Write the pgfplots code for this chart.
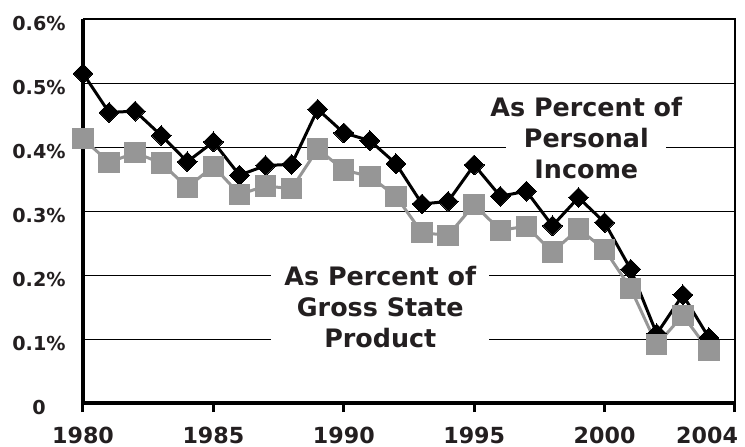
\documentclass[border=0pt]{standalone}
\usepackage{pgfplots}
\pgfplotsset{compat=1.18}
\usepackage{fontspec}
\setmainfont{DejaVu Sans}
\definecolor{txt}{RGB}{35,31,32}
\definecolor{gsp}{RGB}{150,150,150}
\begin{document}
\begin{tikzpicture}
\path[use as bounding box] (-41.5pt,-21.5pt) rectangle (331pt,201.5pt);
\begin{axis}[
  at={(0,0)}, anchor=south west,
  width=326pt, height=192pt, scale only axis,
  xmin=1980, xmax=2005, ymin=0, ymax=0.6,
  clip=false,
  axis line style={draw=none},
  xtick={1980,1985,1990,1995,2000,2005},
  xticklabels={1980,1985,1990,1995,2000,\makebox[0pt][r]{2004\kern-1.5pt}},
  ytick={0,0.1,0.2,0.3,0.4,0.5,0.6},
  yticklabels={0,0.1\%,0.2\%,0.3\%,0.4\%,0.5\%,0.6\%},
  xtick pos=bottom, tick align=outside,
  major tick length=4.5pt,
  xtick style={black, line width=1.5pt},
  ytick style={draw=none},
  ymajorgrids, major grid style={black, line width=0.5pt},
  yticklabel style={font=\fontsize{9.6pt}{11pt}\selectfont\bfseries, text=txt, anchor=center, inner xsep=0pt, xshift=-17.5pt, yshift=-2.2pt},
  xticklabel style={font=\fontsize{11.1pt}{13pt}\selectfont\bfseries, text=txt, anchor=base, inner sep=0pt, yshift=-15.8pt},
]
\draw[black, line width=1pt] (rel axis cs:0,1) -- (rel axis cs:1,1) -- (rel axis cs:1,0);
\draw[black, line width=1.6pt] (rel axis cs:1,0) -- (rel axis cs:0,0) -- (rel axis cs:0,1);
\addplot[black, line width=1.5pt, mark=square*, mark size=3.5pt, mark options={rotate=45, fill=black, draw=black, line width=0pt}] coordinates {
(1980,0.515) (1981,0.454) (1982,0.456) (1983,0.418) (1984,0.377)
(1985,0.408) (1986,0.356) (1987,0.371) (1988,0.373) (1989,0.459)
(1990,0.422) (1991,0.410) (1992,0.374) (1993,0.311) (1994,0.315)
(1995,0.372) (1996,0.323) (1997,0.331) (1998,0.277) (1999,0.321)
(2000,0.282) (2001,0.209) (2002,0.108) (2003,0.169) (2004,0.102)
};
\addplot[gsp, line width=1.5pt, mark=square*, mark size=4.6pt, mark options={fill=gsp, draw=none}] coordinates {
(1980,0.413) (1981,0.376) (1982,0.391) (1983,0.375) (1984,0.337)
(1985,0.370) (1986,0.326) (1987,0.339) (1988,0.335) (1989,0.397)
(1990,0.364) (1991,0.354) (1992,0.323) (1993,0.266) (1994,0.262)
(1995,0.310) (1996,0.270) (1997,0.276) (1998,0.236) (1999,0.272)
(2000,0.240) (2001,0.179) (2002,0.091) (2003,0.137) (2004,0.082)
};
\node[fill=white, align=center, text=txt, inner xsep=-8pt, inner ysep=1pt,
  font=\fontsize{12.7pt}{15.5pt}\selectfont\bfseries] at (axis cs:1999.3,0.414)
  {As Percent of\\Personal\\Income};
\node[fill=white, align=center, text=txt, inner xsep=6.5pt, inner ysep=2pt,
  font=\fontsize{12.7pt}{15.5pt}\selectfont\bfseries] at (axis cs:1991.4,0.1498)
  {As Percent of\\Gross State\\Product};
\end{axis}
\end{tikzpicture}
\end{document}
